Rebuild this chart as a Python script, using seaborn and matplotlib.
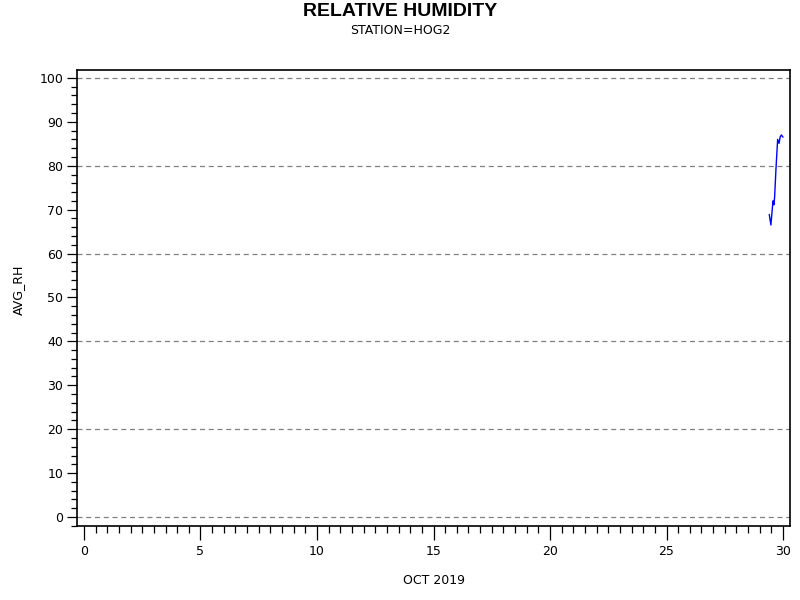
import matplotlib
matplotlib.use("Agg")
import matplotlib.pyplot as plt
import seaborn as sns
import pandas as pd
from matplotlib.ticker import MultipleLocator

# Data (day of October 2019, relative humidity %)
day = [29.41, 29.48, 29.57, 29.61, 29.64, 29.70, 29.77, 29.83, 29.88, 29.93, 30.00]
avg_rh = [68.9, 66.5, 72.0, 71.1, 72.9, 79.5, 86.0, 85.1, 86.6, 87.0, 86.5]

df = pd.DataFrame({"day": day, "AVG_RH": avg_rh})

sns.set_style("white")
plt.rcParams['font.family'] = ['DejaVu Sans']
plt.rcParams['text.color'] = 'black'
plt.rcParams['axes.labelcolor'] = 'black'
plt.rcParams['xtick.color'] = 'black'
plt.rcParams['ytick.color'] = 'black'

fig = plt.figure(figsize=(8, 6), dpi=100)
ax = fig.add_axes([77/800, 1-526/600, (790-77)/800, (526-70)/600])

sns.lineplot(data=df, x="day", y="AVG_RH", ax=ax, color="#0000ff", linewidth=1.0)

ax.set_xlim(-0.3, 30.3)
ax.set_ylim(-2.05, 101.8)
ax.xaxis.set_major_locator(MultipleLocator(5))
ax.xaxis.set_minor_locator(MultipleLocator(0.5))
ax.yaxis.set_major_locator(MultipleLocator(10))
ax.yaxis.set_minor_locator(MultipleLocator(2))
ax.tick_params(axis='both', which='major', direction='out', width=0.9, labelsize=9)
ax.tick_params(axis='both', which='minor', direction='out', length=4, width=0.9)
ax.tick_params(axis='x', which='major', length=10, pad=4)
ax.tick_params(axis='x', which='minor', length=5)
ax.tick_params(axis='y', which='major', length=7, pad=3)
ax.tick_params(bottom=True, left=True, which='both')

for y in range(0, 101, 20):
    ax.axhline(y, color='#808080', linestyle=(0, (4, 3)), linewidth=0.9, zorder=0)

for s in ax.spines.values():
    s.set_visible(True)
    s.set_color('black')
    s.set_linewidth(1.2)

ax.set_xlabel("")
ax.set_ylabel("")
fig.text(434/800, 1-580/600, "OCT 2019", ha='center', va='center', fontsize=9)
fig.text(18/800, 1-290/600, "AVG_RH", ha='center', va='center', fontsize=9, rotation=90)

fig.text(0.5, 1-11/600, "RELATIVE HUMIDITY", ha='center', va='center',
         fontsize=14, fontweight='bold', family=['Liberation Sans'])
fig.text(0.5, 1-31/600, "STATION=HOG2", ha='center', va='center', fontsize=9)

fig.savefig("out.png", dpi=100)
